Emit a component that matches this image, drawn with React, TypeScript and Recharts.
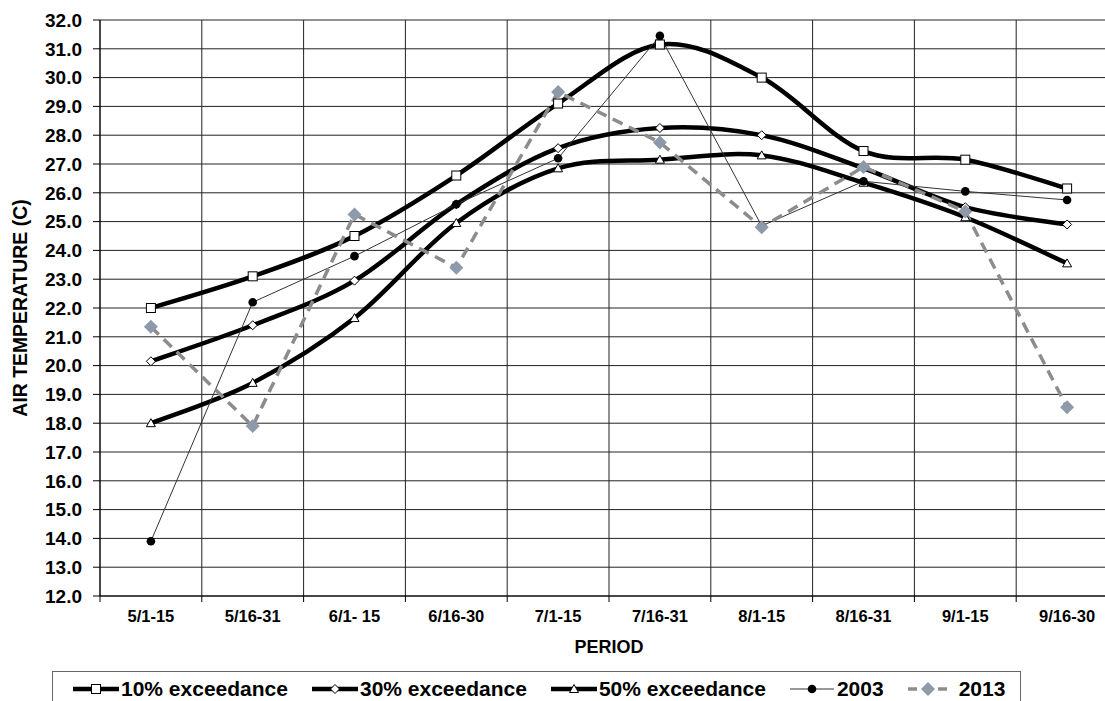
import { LineChart, Line, XAxis, YAxis, CartesianGrid, Label } from "recharts";

// half-month periods
const periods = ["5/1-15", "5/16-31", "6/1- 15", "6/16-30", "7/1-15", "7/16-31", "8/1-15", "8/16-31", "9/1-15", "9/16-30"];

// air temperature (C)
const exc10 = [22.0, 23.1, 24.5, 26.6, 29.1, 31.15, 30.0, 27.45, 27.15, 26.15];
const exc30 = [20.15, 21.4, 22.95, 25.6, 27.55, 28.25, 28.0, 26.85, 25.5, 24.9];
const exc50 = [18.0, 19.4, 21.65, 24.95, 26.85, 27.15, 27.3, 26.35, 25.15, 23.55];
const y2003 = [13.9, 22.2, 23.8, 25.6, 27.2, 31.45, 24.85, 26.4, 26.05, 25.75];
const y2013 = [21.35, 17.9, 25.25, 23.4, 29.5, 27.75, 24.8, 26.9, 25.35, 18.55];

const yTicks = [12, 13, 14, 15, 16, 17, 18, 19, 20, 21, 22, 23, 24, 25, 26, 27, 28, 29, 30, 31, 32];

const data = periods.map((period, i) => ({
  period,
  exc10: exc10[i],
  exc30: exc30[i],
  exc50: exc50[i],
  y2003: y2003[i],
  y2013: y2013[i],
}));

const FONT = "'Liberation Sans', Arial, Helvetica, sans-serif";
const CHART_W = 1130;
const CHART_H = 701;
const BAND = (1118 - 100) / periods.length;

// Excel-style smoothed line (bezier, control points at 1/6 of neighbour chord)
function excelCurve(context: any) {
  let pts: number[][] = [];
  return {
    areaStart() {},
    areaEnd() {},
    lineStart() {
      pts = [];
    },
    point(x: number, y: number) {
      pts.push([+x, +y]);
    },
    lineEnd() {
      const n = pts.length;
      if (!n) return;
      context.moveTo(pts[0][0], pts[0][1]);
      for (let i = 0; i < n - 1; i++) {
        const p0 = pts[i - 1] || pts[i];
        const p1 = pts[i];
        const p2 = pts[i + 1];
        const p3 = pts[i + 2] || p2;
        context.bezierCurveTo(
          p1[0] + (p2[0] - p0[0]) / 6,
          p1[1] + (p2[1] - p0[1]) / 6,
          p2[0] - (p3[0] - p1[0]) / 6,
          p2[1] - (p3[1] - p1[1]) / 6,
          p2[0],
          p2[1]
        );
      }
    },
  };
}

const square = (cx: number, cy: number) => (
  <rect x={cx - 4.5} y={cy - 4.5} width={9} height={9} fill="#fff" stroke="#000" strokeWidth={1} />
);
const smallDiamond = (cx: number, cy: number) => (
  <path d={`M${cx} ${cy - 4.5}L${cx + 4.5} ${cy}L${cx} ${cy + 4.5}L${cx - 4.5} ${cy}Z`} fill="#fff" stroke="#000" strokeWidth={1} />
);
const triangle = (cx: number, cy: number) => (
  <path d={`M${cx} ${cy - 4.5}L${cx + 4.5} ${cy + 3.5}L${cx - 4.5} ${cy + 3.5}Z`} fill="#fff" stroke="#000" strokeWidth={1} />
);
const blackDot = (cx: number, cy: number) => <circle cx={cx} cy={cy} r={4.3} fill="#000" />;
const grayDiamond = (cx: number, cy: number) => (
  <path d={`M${cx} ${cy - 7}L${cx + 7} ${cy}L${cx} ${cy + 7}L${cx - 7} ${cy}Z`} fill="#8e99a9" />
);

const series = [
  { key: "exc10", name: "10% exceedance", stroke: "#000", width: 4.5, dash: undefined, marker: square, smooth: true },
  { key: "exc30", name: "30% exceedance", stroke: "#000", width: 4.5, dash: undefined, marker: smallDiamond, smooth: true },
  { key: "exc50", name: "50% exceedance", stroke: "#000", width: 4.5, dash: undefined, marker: triangle, smooth: true },
  { key: "y2003", name: "2003", stroke: "#333", width: 1, dash: undefined, marker: blackDot, smooth: false },
  { key: "y2013", name: "2013", stroke: "#8c8c8c", width: 3.5, dash: "11 7", marker: grayDiamond, smooth: false },
];

const PeriodTick = ({ x, y, payload }: any) => (
  <g>
    <line x1={x - BAND / 2} x2={x - BAND / 2} y1={y - 6} y2={y} stroke="#000" />
    <text x={x} y={y + 20} textAnchor="middle" fontSize={16.5} fontWeight="bold" fontFamily={FONT} fill="#000">
      {payload.value}
    </text>
  </g>
);

const LegendBox = () => (
  <div
    style={{
      position: "absolute",
      left: 52,
      top: 671,
      width: 969,
      height: 36,
      border: "1px solid #666",
      boxSizing: "border-box",
      display: "flex",
      alignItems: "center",
      paddingLeft: 20,
      gap: 24,
      fontFamily: FONT,
      fontWeight: "bold",
      fontSize: 21,
      color: "#000",
      background: "#fff",
    }}
  >
    {series.map((s) => {
      const w = s.key === "y2013" ? 40 : s.key === "y2003" ? 44 : 46;
      const gap = s.key === "y2013" ? 11 : s.key === "y2003" ? 3 : 2;
      return (
        <div key={s.key} style={{ display: "flex", alignItems: "center" }}>
          <svg width={w} height={20} style={{ display: "block" }}>
            <line x1={0} x2={w} y1={10} y2={10} stroke={s.stroke} strokeWidth={s.width} strokeDasharray={s.dash ? "9 6" : undefined} />
            {s.marker(w / 2, 10)}
          </svg>
          <span style={{ marginLeft: gap, whiteSpace: "nowrap" }}>{s.name}</span>
        </div>
      );
    })}
  </div>
);

export default function App() {
  return (
    <div style={{ position: "fixed", left: 0, top: 0, width: 1105, height: 701, overflow: "hidden", background: "#fff" }}>
      <LineChart width={CHART_W} height={CHART_H} data={data} margin={{ top: 20, right: 12, bottom: 0, left: 0 }}>
        <CartesianGrid
          stroke="#222"
          verticalCoordinatesGenerator={({ offset }: any) =>
            periods.map((_, i) => offset.left + (i * offset.width) / periods.length).concat(offset.left + offset.width)
          }
        />
        <XAxis
          dataKey="period"
          interval={0}
          height={105}
          padding={{ left: BAND / 2, right: BAND / 2 }}
          axisLine={{ stroke: "#000" }}
          tickLine={false}
          tickSize={6}
          tickMargin={0}
          tick={<PeriodTick />}
        >
          <Label
            content={({ viewBox }: any) => (
              <text
                x={viewBox.x + viewBox.width / 2}
                y={viewBox.y + 57}
                textAnchor="middle"
                fontSize={18}
                fontWeight="bold"
                fontFamily={FONT}
                fill="#000"
              >
                PERIOD
              </text>
            )}
          />
        </XAxis>
        <YAxis
          width={100}
          domain={[12, 32]}
          ticks={yTicks}
          interval={0}
          allowDataOverflow
          tickFormatter={(v: number) => v.toFixed(1)}
          axisLine={{ stroke: "#000" }}
          tickLine={{ stroke: "#000" }}
          tickSize={7}
          tickMargin={11}
          tick={{ fill: "#000", fontSize: 19, fontWeight: "bold", fontFamily: FONT }}
        >
          <Label
            content={({ viewBox }: any) => {
              const cx = 19.5;
              const cy = viewBox.y + viewBox.height / 2;
              return (
                <text
                  x={cx}
                  y={cy}
                  transform={`rotate(-90 ${cx} ${cy})`}
                  textAnchor="middle"
                  dominantBaseline="central"
                  fontSize={19.4}
                  fontWeight="bold"
                  fontFamily={FONT}
                  fill="#000"
                >
                  AIR TEMPERATURE (C)
                </text>
              );
            }}
          />
        </YAxis>
        {series.map((s) => (
          <Line
            key={s.key}
            dataKey={s.key}
            name={s.name}
            type={s.smooth ? (excelCurve as any) : "linear"}
            stroke={s.stroke}
            strokeWidth={s.width}
            strokeDasharray={s.dash}
            dot={(p: any) => <g key={`${s.key}-${p.index}`}>{p.cx != null && p.cy != null ? s.marker(p.cx, p.cy) : null}</g>}
            activeDot={false}
            isAnimationActive={false}
          />
        ))}
      </LineChart>
      <LegendBox />
    </div>
  );
}
